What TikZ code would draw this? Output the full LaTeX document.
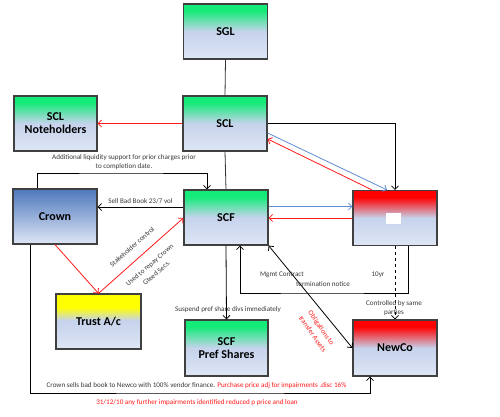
\documentclass[tikz,border=0pt]{standalone}
\usepackage{fontspec}
\setmainfont{Carlito}
\usepackage{tikz}
\usepackage{xcolor}
\usetikzlibrary{arrows.meta}

\definecolor{boxgreen}{RGB}{20,235,120}
\definecolor{boxblue}{RGB}{198,211,236}
\definecolor{boxpale}{RGB}{222,230,245}
\definecolor{crownblue}{RGB}{78,120,188}
\definecolor{boxred}{RGB}{255,0,0}
\definecolor{boxyellow}{RGB}{255,255,0}
\definecolor{linkblue}{RGB}{95,140,210}
\definecolor{linkred}{RGB}{255,25,25}
\definecolor{textgray}{RGB}{55,55,55}

\pgfdeclareverticalshading{greentop}{100bp}{color(0bp)=(boxpale); color(25bp)=(boxpale); color(50bp)=(boxblue); color(69bp)=(boxgreen); color(100bp)=(boxgreen)}
\pgfdeclareverticalshading{redtop}{100bp}{color(0bp)=(boxpale); color(25bp)=(boxpale); color(50bp)=(boxblue); color(69bp)=(boxred); color(100bp)=(boxred)}
\pgfdeclareverticalshading{yellowtop}{100bp}{color(0bp)=(boxpale); color(25bp)=(boxpale); color(51bp)=(boxblue); color(63bp)=(boxyellow); color(100bp)=(boxyellow)}
\pgfdeclareverticalshading{bluetop}{100bp}{color(0bp)=(boxpale); color(25bp)=(boxpale); color(75bp)=(crownblue); color(100bp)=(crownblue)}

\tikzset{
  entity/.style={draw=black!75, line width=1.2pt, minimum width=84pt, minimum height=55pt,
    inner sep=0pt, align=center, font=\fontsize{12}{13}\selectfont\bfseries},
  note/.style={font=\fontsize{7.1}{8.6}\selectfont, text=textgray, align=center, inner sep=0pt},
  slanted/.style={note, font=\fontsize{7.1}{10.5}\selectfont},
}

\begin{document}
\begin{tikzpicture}[x=1pt, y=-1pt, >={Straight Barb[length=3.5pt,width=7pt]}, line width=0.8pt]
\useasboundingbox (0,0) rectangle (500,417);
% entities
\node[entity, shading=greentop] (sgl) at (225.5,31.5) {SGL};
\node[entity, shading=greentop] (scl) at (225,123.5) {SCL};
\node[entity, shading=greentop, minimum width=83pt] (scln) at (55.5,123.5) {SCL\\Noteholders};
\node[entity, shading=bluetop] (crown) at (55,216.5) {Crown};
\node[entity, shading=greentop] (scf) at (226,217.5) {SCF};
\node[entity, shading=redtop] (redbox) at (395,218) {};
\node[fill=white, minimum width=15pt, minimum height=11pt, inner sep=0pt] (mask) at (393.5,218.5) {};
\node[entity, shading=yellowtop, minimum width=85pt] (trust) at (98.5,321.5) {Trust A/c};
\node[entity, shading=greentop, minimum width=83pt, minimum height=56pt] (pref) at (226.5,348) {SCF\\Pref Shares};
\node[entity, shading=redtop, minimum height=56pt] (newco) at (395,348) {NewCo};

% helper points
\coordinate (toploop) at (120,173);
\coordinate (mgmt) at (320,293);
\coordinate (bottom) at (200,393);

% ownership lines
\draw[black!80] (sgl.south) -- (scl.north);
\draw[black!80] (scl.south) -- (scf.north);
\draw[->] (scl.east) -| (redbox.north);
\draw[->] ([xshift=-18pt]crown.north) |- (toploop) -| ([xshift=-19pt]scf.north);
\draw[->] ([yshift=10.5pt]scf.west) -- ([yshift=10.5pt]scf.west -| crown.east)
  node[note, midway, above=3pt] {Sell Bad Book 23/7 vol};
\draw[->] (scf.south) -- (pref.north);
\draw[->] ([xshift=13pt]redbox.south) |- (mgmt) -| ([xshift=14pt]scf.south);
\draw[->, dashed] (redbox.south) -- (newco.north);
\draw[<->] (scf.south east) -- (newco.west);
\draw[->] ([xshift=-25pt]crown.south) |- (bottom) -| ([xshift=-25pt]newco.south);

% red and blue flows
\draw[->, linkred] (scl.west) -- (scln.east);
\draw[->, linkred] (crown.south) -- (trust.north);
\draw[->, linkred] (trust.north) -- ([yshift=-0.5pt]scf.west);
\draw[->, linkblue] ([yshift=-9.5pt]scl.east) -- ([xshift=-8pt]redbox.north);
\draw[->, linkred] ([xshift=-23pt]redbox.north) -- ([yshift=-15.5pt]scl.east);
\draw[->, linkblue] ([yshift=11pt]scf.east) -- ([yshift=11pt]scf.east -| redbox.west);
\draw[->, linkred] (redbox.west) -- (redbox.west -| scf.east);

% labels
\node[note] (liquidity) at (124,162) {Additional liquidity support for prior charges prior\\to completion date.};
\node[slanted, rotate=41] (stake) at (132,247) {Stakeholder control};
\node[slanted, rotate=41] (repay) at (153,269) {Used to repay Crown\\Gteed Secs.};
\node[note] (suspend) at (228,310) {Suspend pref share divs immediately};
\node[note] (mgmtc) at (282,275) {Mgmt Contract};
\node[note] (termin) at (323,284) {termination notice};
\node[note] (tenyr) at (378,275) {10yr};
\node[note] (control) at (394,308) {Controlled by same\\parties};
\node[slanted, text=linkred, rotate=-55] (oblig) at (317,331) {Obligations to\\transfer Assets};
\node[note] (sells) at (196.5,386) {Crown sells bad book to Newco with 100\% vendor finance. \textcolor{linkred}{Purchase price adj for impairments .disc 16\%}};
\node[note, text=linkred] (further) at (197,403) {31/12/10 any further impairments identified reduced p price and loan};
\end{tikzpicture}
\end{document}
